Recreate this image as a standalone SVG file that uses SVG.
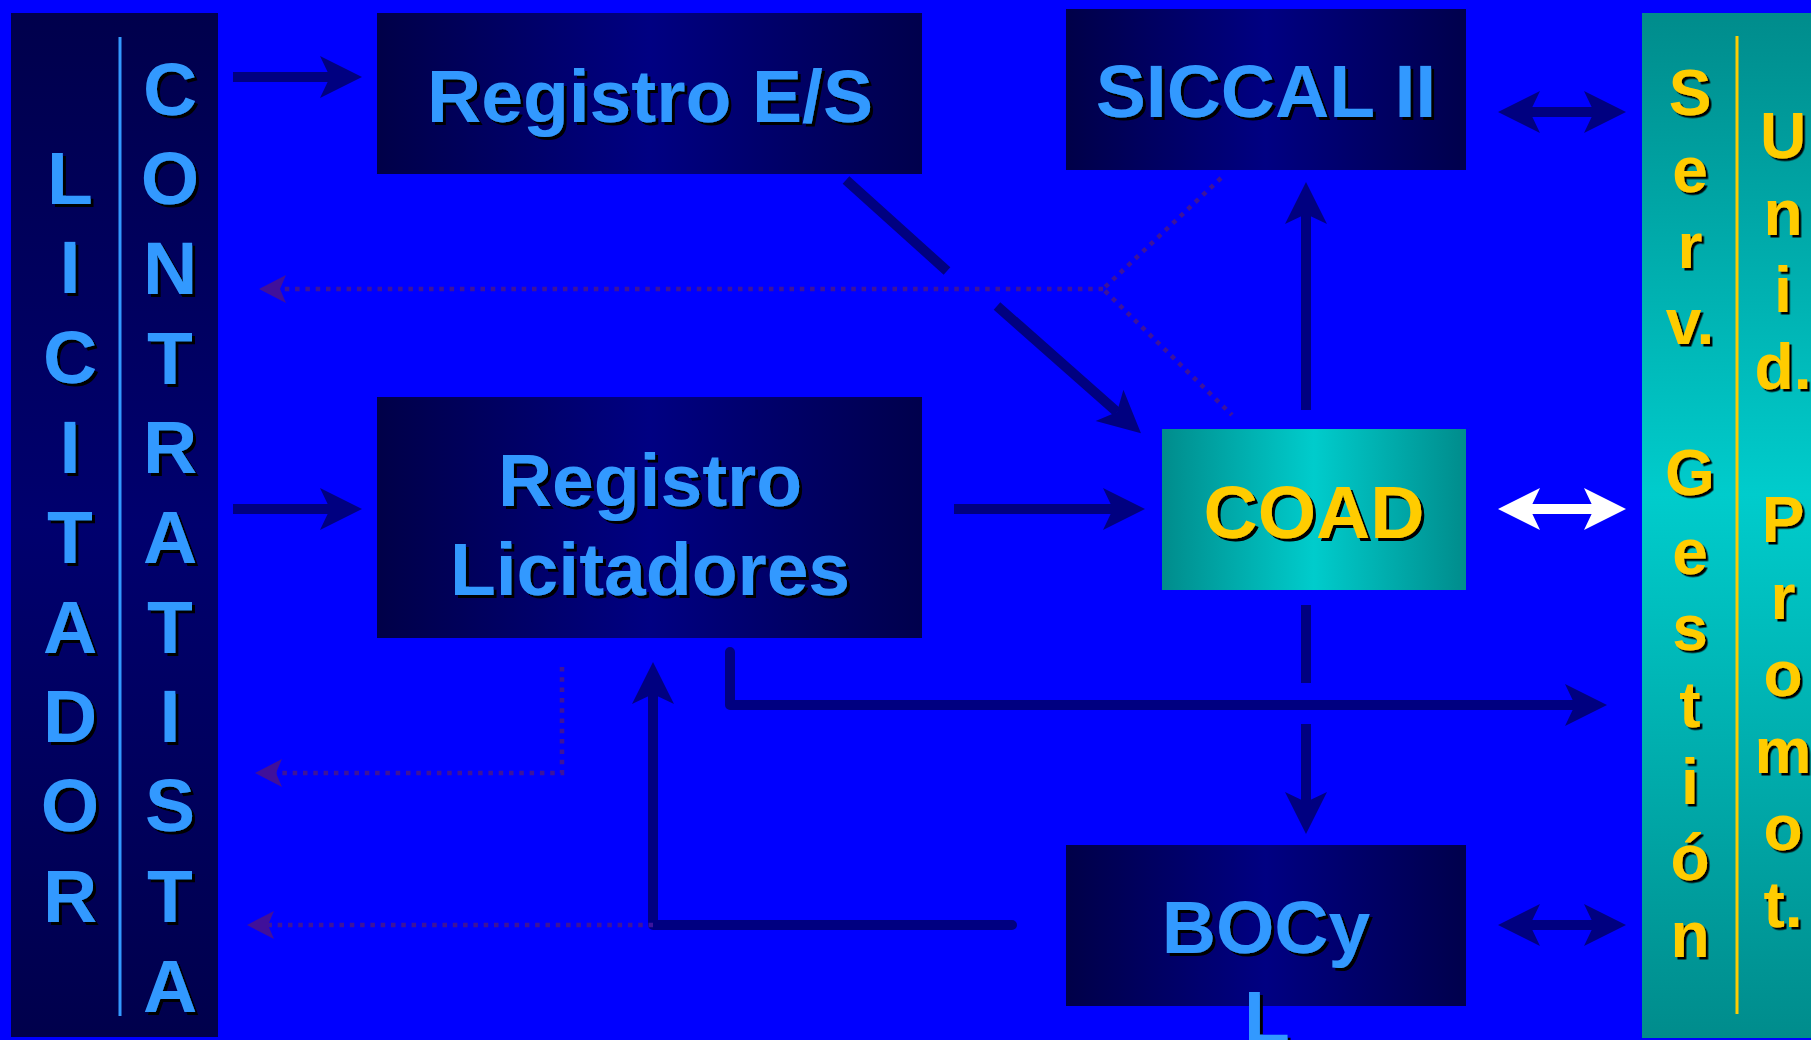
<svg xmlns="http://www.w3.org/2000/svg" width="1811" height="1040" viewBox="0 0 1811 1040">
<style>
.bt{font-family:"Liberation Sans",Arial,sans-serif;font-weight:bold;font-size:75px;fill:#3399FF;text-anchor:middle;filter:url(#sh)}
.yt{font-family:"Liberation Sans",Arial,sans-serif;font-weight:bold;font-size:64px;fill:#FFCC00;text-anchor:middle;filter:url(#sh2)}
.ct{font-family:"Liberation Sans",Arial,sans-serif;font-weight:bold;font-size:75px;fill:#FFCC00;text-anchor:middle;filter:url(#sh)}
.ln{fill:none;stroke:#000080;stroke-width:10}
.wl{fill:none;stroke:#FFFFFF;stroke-width:10}
.dt{fill:none;stroke:#3D149B;stroke-width:4.5;stroke-dasharray:4.5 5.8}
</style>
<defs>
<linearGradient id="gBox" x1="0" y1="0" x2="1" y2="0">
<stop offset="0" stop-color="#000048"/><stop offset="0.5" stop-color="#000082"/><stop offset="1" stop-color="#00004C"/>
</linearGradient>
<linearGradient id="gLeft" x1="0" y1="0" x2="0" y2="1">
<stop offset="0" stop-color="#00004C"/><stop offset="0.5" stop-color="#00006E"/><stop offset="1" stop-color="#00004C"/>
</linearGradient>
<linearGradient id="gCoad" x1="0" y1="0" x2="1" y2="0">
<stop offset="0" stop-color="#008C8C"/><stop offset="0.5" stop-color="#00CCCC"/><stop offset="1" stop-color="#008C8C"/>
</linearGradient>
<linearGradient id="gRight" x1="0" y1="0" x2="0" y2="1">
<stop offset="0" stop-color="#008C8C"/><stop offset="0.47" stop-color="#00CCCC"/><stop offset="1" stop-color="#008C8C"/>
</linearGradient>
<filter id="sh" x="-10%" y="-20%" width="130%" height="150%">
<feDropShadow dx="3" dy="3" stdDeviation="0.4" flood-color="#000" flood-opacity="1"/>
</filter>
<filter id="sh2" x="-20%" y="-20%" width="150%" height="150%">
<feDropShadow dx="2.5" dy="2.5" stdDeviation="0.4" flood-color="#000" flood-opacity="1"/>
</filter>
<marker id="ah" markerUnits="userSpaceOnUse" viewBox="-45 -25 50 50" markerWidth="50" markerHeight="50" refX="-32" refY="0" orient="auto-start-reverse">
<path d="M0,0 L-42,-21 L-32,0 L-42,21 Z" fill="#000080"/>
</marker>
<marker id="ahw" markerUnits="userSpaceOnUse" viewBox="-45 -25 50 50" markerWidth="50" markerHeight="50" refX="-32" refY="0" orient="auto-start-reverse">
<path d="M0,0 L-42,-21 L-32,0 L-42,21 Z" fill="#FFFFFF"/>
</marker>
<marker id="ad" markerUnits="userSpaceOnUse" viewBox="-30 -16 32 32" markerWidth="32" markerHeight="32" refX="-21" refY="0" orient="auto-start-reverse">
<path d="M0,0 L-27,-14 L-21,0 L-27,14 Z" fill="#40109A"/>
</marker>
</defs>
<rect x="0" y="0" width="1811" height="1040" fill="#0000FF"/>

<g id="licitador-contratista">
<rect x="11" y="13" width="207" height="1024" fill="url(#gLeft)"/>
<line x1="120" y1="37" x2="120" y2="1016" stroke="#3399FF" stroke-width="3"/>
<text class="bt"><tspan x="70" y="204">L</tspan><tspan x="70" y="293">I</tspan><tspan x="70" y="383">C</tspan><tspan x="70" y="473">I</tspan><tspan x="70" y="563">T</tspan><tspan x="70" y="653">A</tspan><tspan x="70" y="742">D</tspan><tspan x="70" y="831">O</tspan><tspan x="70" y="922">R</tspan></text>
<text class="bt"><tspan x="170" y="115">C</tspan><tspan x="170" y="204">O</tspan><tspan x="170" y="294">N</tspan><tspan x="170" y="384">T</tspan><tspan x="170" y="473">R</tspan><tspan x="170" y="563">A</tspan><tspan x="170" y="653">T</tspan><tspan x="170" y="742">I</tspan><tspan x="170" y="831">S</tspan><tspan x="170" y="922">T</tspan><tspan x="170" y="1012">A</tspan></text>
</g>

<g id="registro-es">
<rect x="377" y="13" width="545" height="161" fill="url(#gBox)"/>
<text class="bt" x="650" y="122">Registro E/S</text>
</g>

<g id="siccal">
<rect x="1066" y="9" width="400" height="161" fill="url(#gBox)"/>
<text class="bt" x="1266" y="117">SICCAL II</text>
</g>

<g id="registro-licitadores">
<rect x="377" y="397" width="545" height="241" fill="url(#gBox)"/>
<text class="bt"><tspan x="650" y="506">Registro</tspan><tspan x="650" y="595">Licitadores</tspan></text>
</g>

<g id="coad">
<rect x="1162" y="429" width="304" height="161" fill="url(#gCoad)"/>
<text class="ct" x="1314" y="538">COAD</text>
</g>

<g id="bocyl">
<rect x="1066" y="845" width="400" height="161" fill="url(#gBox)"/>
<text class="bt"><tspan x="1266" y="953">BOCy</tspan><tspan x="1267" y="1043">L</tspan></text>
</g>

<g id="serv-gestion-unid-promot">
<rect x="1642" y="13" width="169" height="1025" fill="url(#gRight)"/>
<line x1="1737" y1="36" x2="1737" y2="1014" stroke="#FFCC00" stroke-width="3"/>
<text class="yt"><tspan x="1690" y="115">S</tspan><tspan x="1690" y="192">e</tspan><tspan x="1690" y="268">r</tspan><tspan x="1690" y="344">v.</tspan><tspan x="1690" y="495">G</tspan><tspan x="1690" y="574">e</tspan><tspan x="1690" y="650">s</tspan><tspan x="1690" y="727">t</tspan><tspan x="1690" y="804">i</tspan><tspan x="1690" y="880">ó</tspan><tspan x="1690" y="957">n</tspan></text>
<text class="yt"><tspan x="1783" y="158">U</tspan><tspan x="1783" y="235">n</tspan><tspan x="1783" y="312">i</tspan><tspan x="1783" y="389">d.</tspan><tspan x="1783" y="542">P</tspan><tspan x="1783" y="619">r</tspan><tspan x="1783" y="696">o</tspan><tspan x="1783" y="773">m</tspan><tspan x="1783" y="850">o</tspan><tspan x="1783" y="927">t.</tspan></text>
</g>

<g id="connectors">
<path class="ln" d="M233,77 L330,77" marker-end="url(#ah)"/>
<path class="ln" d="M233,509 L330,509" marker-end="url(#ah)"/>
<path class="ln" d="M846,180 L947,271"/>
<path class="ln" d="M997,306 L1117,412" marker-end="url(#ah)"/>
<path class="ln" d="M954,509 L1113,509" marker-end="url(#ah)"/>
<path class="ln" d="M1306,410 L1306,214" marker-end="url(#ah)"/>
<path class="ln" d="M1306,605 L1306,683"/>
<path class="ln" d="M1306,724 L1306,802" marker-end="url(#ah)"/>
<path class="ln" d="M730,652 L730,705 L1575,705" stroke-linecap="round" stroke-linejoin="round" marker-end="url(#ah)"/>
<path class="ln" d="M1012,925 L653,925 L653,694" stroke-linecap="round" stroke-linejoin="round" marker-end="url(#ah)"/>
<path class="ln" d="M1530,112 L1594,112" marker-start="url(#ah)" marker-end="url(#ah)"/>
<path class="wl" d="M1530,509 L1594,509" marker-start="url(#ahw)" marker-end="url(#ahw)"/>
<path class="ln" d="M1530,925 L1594,925" marker-start="url(#ah)" marker-end="url(#ah)"/>
<path class="dt" d="M1103,289 L280,289" marker-end="url(#ad)"/>
<path class="dt" d="M1221,178 L1103,289 L1232,415"/>
<path class="dt" d="M562,667 L562,773 L276,773" marker-end="url(#ad)"/>
<path class="dt" d="M653,925 L268,925" marker-end="url(#ad)"/>
</g>
</svg>
